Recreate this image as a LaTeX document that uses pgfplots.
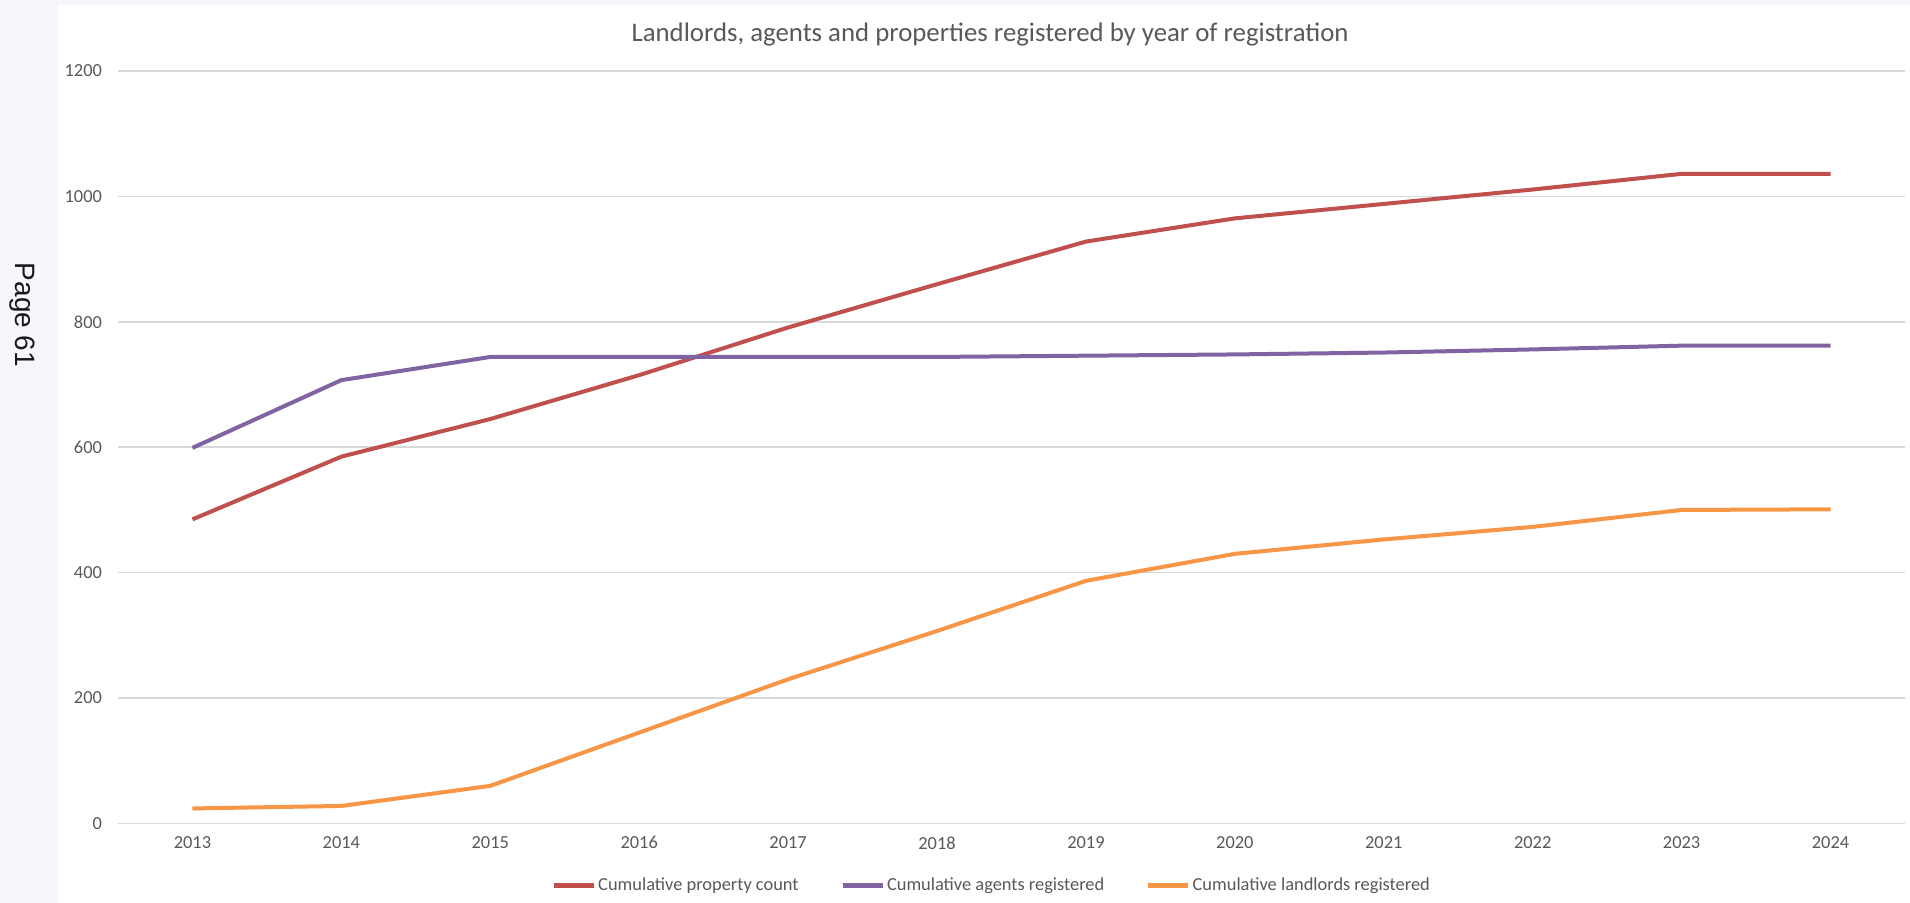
\documentclass[border=0pt]{standalone}
\usepackage{pgfplots}
\pgfplotsset{compat=1.18}
\usepackage{fontspec}
\setmainfont{Carlito}
\newfontfamily\arialfont{Liberation Sans}
\definecolor{bgc}{HTML}{F5F7FB}
\definecolor{redc}{HTML}{C0504D}
\definecolor{purc}{HTML}{8064A2}
\definecolor{orac}{HTML}{F79646}
\definecolor{gridc}{HTML}{D9D9D9}
\definecolor{txtc}{HTML}{595959}
\begin{document}
\begin{tikzpicture}
\fill[bgc] (0,0) rectangle (955bp,451.5bp);
\fill[white] (29bp,0) rectangle (955bp,449bp);
\node[rotate=-90, font=\arialfont\fontsize{14bp}{16bp}\selectfont, text=black!90] at (11bp,294bp) {Page 61};
\node[font=\fontsize{13.4bp}{15bp}\selectfont, text=txtc] at (495bp,434bp) {Landlords, agents and properties registered by year of registration};
\begin{axis}[
  at={(59bp,39.75bp)}, anchor=south west,
  scale only axis, width=893.5bp, height=376.25bp,
  xmin=-0.5, xmax=11.5, ymin=0, ymax=1200,
  xtick={0,...,11},
  xticklabels={2013,2014,2015,2016,2017,2018,2019,2020,2021,2022,2023,2024},
  ytick={0,200,...,1200},
  /pgf/number format/1000 sep={},
  /pgf/number format/assume math mode=true,
  ymajorgrids, grid style={draw=gridc, line width=0.8bp},
  axis line style={draw=none},
  major tick length=0pt,
  tick label style={font=\fontsize{9.2bp}{11bp}\selectfont, text=txtc},
  yticklabel style={xshift=-4.5bp},
  xticklabel style={yshift=-3bp},
  clip=false,
  legend columns=3,
  legend style={at={(axis description cs:0.489,-0.0824)}, anchor=center, draw=none, fill=none,
    font=\fontsize{9.2bp}{11bp}\selectfont, text=txtc,
    /tikz/every even column/.append style={column sep=20bp},
    nodes={inner xsep=1bp}},
  legend image code/.code={\draw[#1, line width=2.2bp] (0bp,0bp) -- (20bp,0bp);},
]
\addplot[redc, line width=2bp] coordinates {(0,485) (1,585) (2,645) (3,715) (4,791) (5,860) (6,928) (7,965) (8,988) (9,1011) (10,1036) (11,1036)};
\addlegendentry{Cumulative property count}
\addplot[purc, line width=2bp] coordinates {(0,599) (1,707) (2,744) (3,744) (4,744) (5,744) (6,746) (7,748) (8,751) (9,756) (10,762) (11,762)};
\addlegendentry{Cumulative agents registered}
\addplot[orac, line width=2bp] coordinates {(0,24) (1,28) (2,60) (3,145) (4,230) (5,307) (6,387) (7,430) (8,453) (9,473) (10,500) (11,501)};
\addlegendentry{Cumulative landlords registered}
\end{axis}
\end{tikzpicture}
\end{document}
